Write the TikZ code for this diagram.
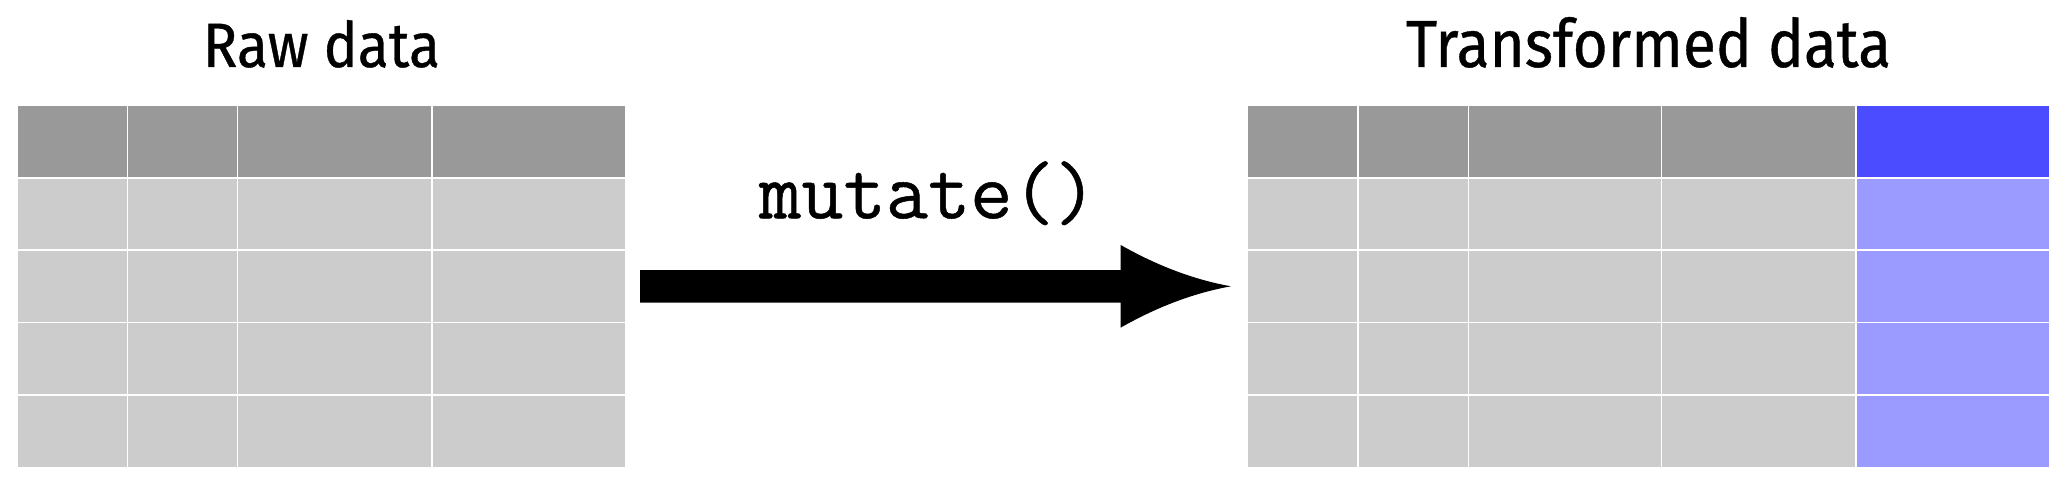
\documentclass[tikz,border=0pt]{standalone}
\usepackage{fontspec}
\usepackage{graphicx}
\usetikzlibrary{calc}
\newfontfamily\handfont{Fira Sans}[FakeBold=0.6]
\newfontfamily\codefont{Latin Modern Mono}[FakeBold=0.6]
\definecolor{hdr}{HTML}{999999}
\definecolor{bdy}{HTML}{CCCCCC}
\definecolor{bhdr}{HTML}{4B4BFF}
\definecolor{bbdy}{HTML}{9B9BFF}
\begin{document}
\begin{tikzpicture}[x=1pt,y=-1pt,
  titlelabel/.style={anchor=base, inner sep=0pt, outer sep=0pt},
  fnlabel/.style={anchor=base, inner sep=0pt, outer sep=0pt, font=\fontsize{82}{82}\selectfont\codefont},
  bigarrow/.style={fill=black, draw=none}]
\useasboundingbox (0,0) rectangle (2066,484);
\fill[white] (0,0) rectangle (2066,484);
% left table
\foreach \xa/\xb in {18/126.8,128.2/237,238.4/431.2,432.6/625}{
  \fill[hdr] (\xa,106) rectangle (\xb,176.9);
  \foreach \ya/\yb in {179/249,251/321.5,323/394,395.8/467}
    \fill[bdy] (\xa,\ya) rectangle (\xb,\yb);
}
% right table
\foreach \xa/\xb/\hc/\bc in {1248/1356.6/hdr/bdy,1358.5/1467.6/hdr/bdy,1469/1660.8/hdr/bdy,1662.4/1854.9/hdr/bdy,1856.5/2049/bhdr/bbdy}{
  \fill[\hc] (\xa,106) rectangle (\xb,176.9);
  \foreach \ya/\yb in {179/249,251/321.5,323/394,395.8/467}
    \fill[\bc] (\xa,\ya) rectangle (\xb,\yb);
}
% titles
\node[titlelabel] (rawtitle) at (321.5,67) {\resizebox{237pt}{47pt}{\handfont Raw data}};
\node[titlelabel] (newtitle) at (1648.5,67) {\resizebox{485pt}{50pt}{\handfont Transformed data}};
% function label
\node[fnlabel] (fn) at (928,218.3) {mutate()};
% arrow
\coordinate (arrS) at (640,286.3);
\coordinate (arrE) at (1231,286.3);
\path[bigarrow] ($(arrS)+(0,-16.3)$) -- ($(arrE)+(-110.3,-16.3)$) -- ($(arrE)+(-110.3,-41.3)$)
  .. controls ($(arrE)+(-73.3,-20.3)$) and ($(arrE)+(-36.5,-6.5)$) .. (arrE)
  .. controls ($(arrE)+(-36.5,6.5)$) and ($(arrE)+(-73.3,20.3)$) .. ($(arrE)+(-110.3,41.3)$)
  -- ($(arrE)+(-110.3,16.3)$) -- ($(arrS)+(0,16.3)$) -- cycle;
\end{tikzpicture}
\end{document}
